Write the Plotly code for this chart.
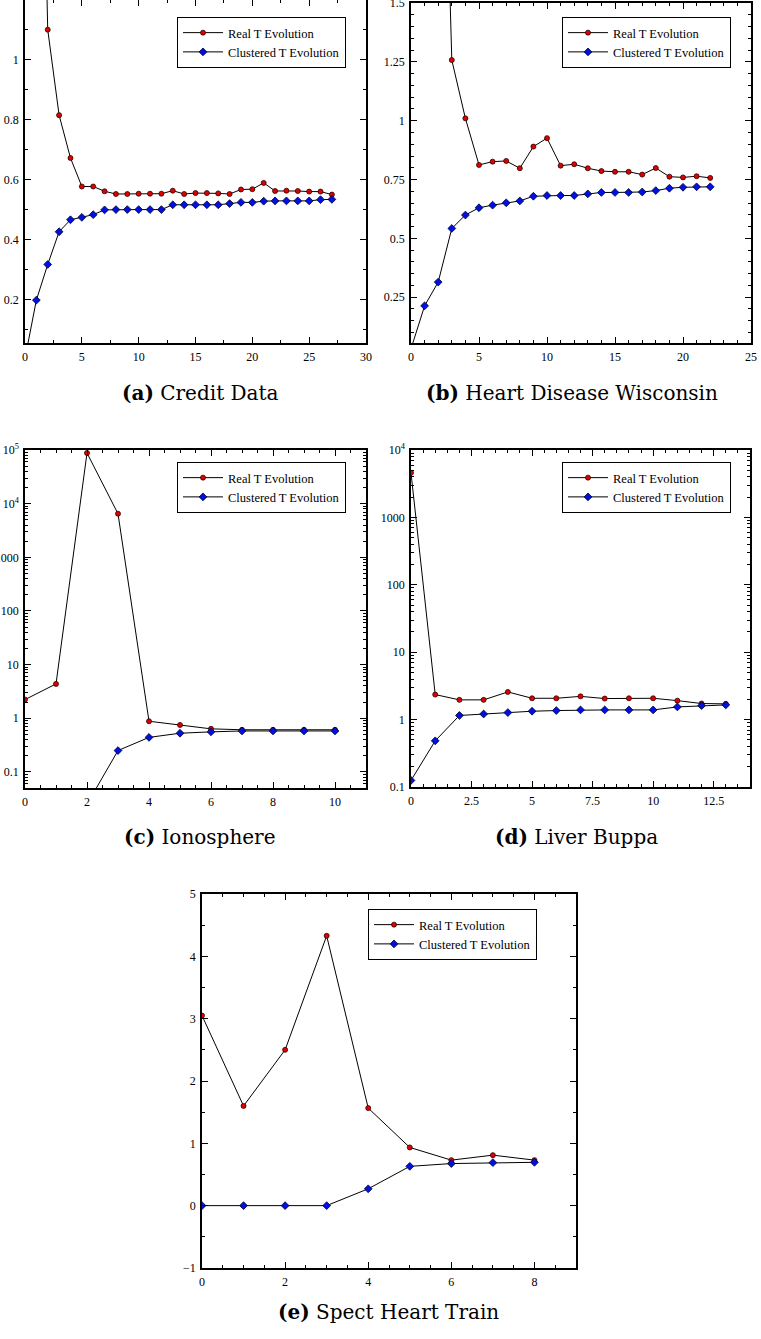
import plotly.graph_objects as go

# ---------------- data ----------------
a_x = list(range(0, 28))
a_real = [4.0, 2.8, 1.10, 0.815, 0.672, 0.577, 0.577, 0.561, 0.552, 0.552, 0.553, 0.553, 0.553, 0.563,
          0.552, 0.555, 0.555, 0.554, 0.552, 0.567, 0.568, 0.589, 0.562, 0.563, 0.562, 0.560, 0.560, 0.550]
a_clus = [0.003, 0.198, 0.317, 0.426, 0.466, 0.474, 0.483, 0.499, 0.5, 0.5, 0.5, 0.5, 0.5, 0.516,
          0.516, 0.516, 0.516, 0.516, 0.52, 0.524, 0.524, 0.528, 0.529, 0.529, 0.529, 0.529, 0.533, 0.534]

b_x = list(range(0, 23))
b_real = [3.5, 3.4, 3.3, 1.258, 1.01, 0.812, 0.826, 0.829, 0.798, 0.89, 0.926, 0.809, 0.815, 0.798,
          0.786, 0.783, 0.783, 0.771, 0.799, 0.762, 0.759, 0.764, 0.757]
b_clus = [0.03, 0.213, 0.314, 0.542, 0.599, 0.63, 0.641, 0.651, 0.659, 0.679, 0.682, 0.682, 0.682,
          0.689, 0.695, 0.695, 0.695, 0.697, 0.703, 0.713, 0.717, 0.719, 0.719]

c_x = list(range(0, 11))
c_real = [2.23, 4.37, 88000, 6500, 0.88, 0.75, 0.635, 0.61, 0.61, 0.61, 0.61]
c_clus = [0.01, 0.012, 0.025, 0.25, 0.44, 0.526, 0.558, 0.58, 0.58, 0.58, 0.58]

d_x = list(range(0, 14))
d_real = [4600, 2.35, 1.96, 1.96, 2.57, 2.07, 2.07, 2.21, 2.05, 2.07, 2.07, 1.91, 1.73, 1.71]
d_clus = [0.125, 0.483, 1.15, 1.21, 1.27, 1.33, 1.36, 1.39, 1.39, 1.39, 1.39, 1.54, 1.61, 1.65]

e_x = list(range(0, 9))
e_real = [3.05, 1.60, 2.50, 4.33, 1.565, 0.934, 0.73, 0.81, 0.73]
e_clus = [0, 0, 0, 0, 0.27, 0.63, 0.675, 0.69, 0.695]

series_names = ["Real T Evolution", "Clustered T Evolution"]
captions = ["<b>(a)</b> Credit Data", "<b>(b)</b> Heart Disease Wisconsin", "<b>(c)</b> Ionosphere",
            "<b>(d)</b> Liver Buppa", "<b>(e)</b> Spect Heart Train"]

log_major = [0.1, 1, 10, 100, 1000, 1e4, 1e5]
log_major_text = ["0.1", "1", "10", "100", "1000", "10<sup>4</sup>", "10<sup>5</sup>"]

# ---------------- layout helpers ----------------
W, H = 761, 1339
FONT = "'Liberation Serif', 'Times New Roman', Times, serif"
CAPFONT = "'DejaVu Serif', 'Liberation Serif', serif"


def px_x(p):
    return p / W


def px_y(p):
    return 1 - p / H


panels = [
    dict(x=a_x, r=a_real, c=a_clus, xp=(25, 366), yp=(0, 343), xr=[0, 30], yr=[0.055, 1.199],
         xd=5, xm=2.5, yd=0.2, ym=0.1, log=False, leg=(177, 17), cap=(200, 393)),
    dict(x=b_x, r=b_real, c=b_clus, xp=(411, 751), yp=(3, 343), xr=[0, 25], yr=[0.055, 1.5005],
         xd=5, xm=1, yd=0.25, ym=0.05, log=False, leg=(562, 17), cap=(572, 393)),
    dict(x=c_x, r=c_real, c=c_clus, xp=(25, 366), yp=(450, 788), xr=[0, 11], yr=[-1.3, 5.001],
         xd=2, xm=0.5, yd=None, ym=None, log=True, leg=(177, 462), cap=(200, 837)),
    dict(x=d_x, r=d_real, c=d_clus, xp=(411, 750), yp=(450, 787), xr=[0, 14], yr=[-1.001, 4.001],
         xd=2.5, xm=0.5, yd=None, ym=None, log=True, leg=(562, 462), cap=(576, 837)),
    dict(x=e_x, r=e_real, c=e_clus, xp=(202, 576), yp=(894, 1268), xr=[0, 9], yr=[-1.001, 5.001],
         xd=2, xm=0.5, yd=1, ym=0.5, log=False, leg=(368, 909), cap=(388, 1312)),
]

fig = go.Figure()
layout = dict(width=W, height=H, margin=dict(l=0, r=0, t=0, b=0, autoexpand=False),
              template="none",
              paper_bgcolor="white", plot_bgcolor="white", showlegend=True,
              font=dict(family=FONT, size=12, color="black"))
annotations = []

log_minor = [k * 10 ** n for n in range(-2, 5) for k in range(2, 10)]

for i, p in enumerate(panels):
    n = i + 1
    xa = "x" if n == 1 else f"x{n}"
    ya = "y" if n == 1 else f"y{n}"
    xkey = "xaxis" if n == 1 else f"xaxis{n}"
    ykey = "yaxis" if n == 1 else f"yaxis{n}"
    lkey = "legend" if n == 1 else f"legend{n}"

    fig.add_trace(go.Scatter(
        x=p["x"], y=p["r"], mode="lines+markers", name=series_names[0],
        xaxis=xa, yaxis=ya, legend=lkey,
        line=dict(color="black", width=1),
        marker=dict(symbol="circle", size=5, color="#e00000", line=dict(color="#300000", width=0.8))))
    fig.add_trace(go.Scatter(
        x=p["x"], y=p["c"], mode="lines+markers", name=series_names[1],
        xaxis=xa, yaxis=ya, legend=lkey,
        line=dict(color="black", width=1),
        marker=dict(symbol="diamond", size=6, color="#0010e0", line=dict(color="#000030", width=0.8))))

    common = dict(showline=True, linecolor="black", linewidth=1.5, mirror="allticks",
                  ticks="inside", ticklen=6, tickwidth=1, tickcolor="black", showgrid=False,
                  zeroline=False, automargin=False, ticklabeloverflow="allow",
                  tickfont=dict(family=FONT, size=12, color="black"),
                  ticklabelstandoff=2)

    layout[xkey] = dict(domain=[px_x(p["xp"][0]), px_x(p["xp"][1])], anchor=ya,
                        range=p["xr"], tickmode="linear", tick0=0, dtick=p["xd"],
                        minor=dict(ticks="inside", ticklen=3, tickcolor="black", dtick=p["xm"], tick0=0),
                        **common)
    yd = dict(domain=[px_y(p["yp"][1]), px_y(p["yp"][0])], anchor=xa, range=p["yr"], **common)
    if p["log"]:
        yd.update(type="log", tickmode="array", tickvals=log_major, ticktext=log_major_text,
                  minor=dict(ticks="inside", ticklen=3, tickcolor="black", tickmode="array",
                             tickvals=log_minor))
    else:
        yd.update(tickmode="linear", tick0=0, dtick=p["yd"],
                  minor=dict(ticks="inside", ticklen=3, tickcolor="black", dtick=p["ym"], tick0=0))
    layout[ykey] = yd

    layout[lkey] = dict(x=px_x(p["leg"][0]), y=px_y(p["leg"][1]), xanchor="left", yanchor="top",
                        bgcolor="white", bordercolor="black", borderwidth=1,
                        font=dict(family=FONT, size=12.5, color="black"),
                        tracegroupgap=0, itemwidth=40)

    annotations.append(dict(text=captions[i], x=px_x(p["cap"][0]), y=px_y(p["cap"][1]),
                            xref="paper", yref="paper", showarrow=False, xanchor="center",
                            yanchor="middle", font=dict(family=CAPFONT, size=20, color="black")))

layout["annotations"] = annotations
fig.update_layout(**layout)
fig.write_html("out.html", config={"displayModeBar": False},
               post_script="document.body.style.margin='0';document.body.style.overflow='hidden';")
